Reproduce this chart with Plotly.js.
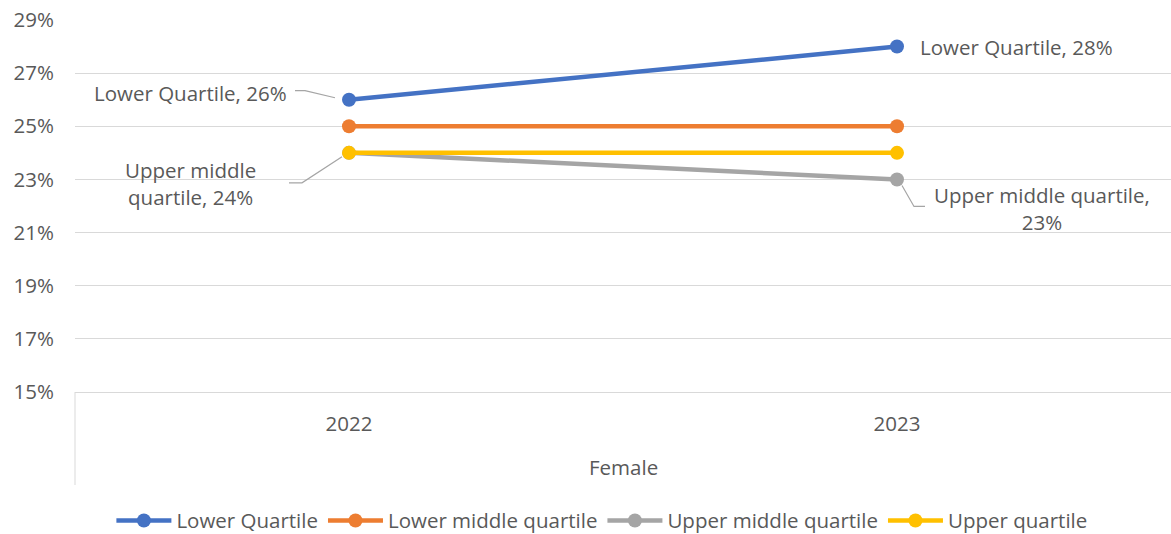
<!DOCTYPE html>
<html>
<head>
<meta charset="utf-8">
<script src="https://cdn.plot.ly/plotly-3.0.1.min.js"></script>
<style>html,body{margin:0;padding:0;background:#fff;}#chart{width:1171px;height:534px;}</style>
</head>
<body>
<div id="chart"></div>
<script>
const years = ["2022", "2023"];
const groupLabel = "Female";
const seriesNames = ["Lower Quartile", "Lower middle quartile", "Upper middle quartile", "Upper quartile"];
const lowerQuartile = [26, 28];
const lowerMiddleQuartile = [25, 25];
const upperMiddleQuartile = [24, 23];
const upperQuartile = [24, 24];
const yTicks = [15, 17, 19, 21, 23, 25, 27, 29];

const colors = ["#4472C4", "#ED7D31", "#A5A5A5", "#FFC000"];
const seriesValues = [lowerQuartile, lowerMiddleQuartile, upperMiddleQuartile, upperQuartile];
const FONT = "'Open Sans', sans-serif";
const FS = 20.5;
const TXT = "#595959";

const traces = seriesValues.map((vals, i) => ({
  type: "scatter",
  mode: "lines+markers",
  name: seriesNames[i],
  x: years,
  y: vals,
  line: {color: colors[i], width: 4.5},
  marker: {color: colors[i], size: 14},
  hoverinfo: "skip"
}));

const annotations = [
  {x: 0, y: lowerQuartile[0], xref: "x", yref: "y", text: seriesNames[0] + ", " + lowerQuartile[0] + "%",
   showarrow: false, xanchor: "right", yanchor: "middle", xshift: -60, yshift: 7},
  {x: 1, y: lowerQuartile[1], xref: "x", yref: "y", text: seriesNames[0] + ", " + lowerQuartile[1] + "%",
   showarrow: false, xanchor: "left", yanchor: "middle", xshift: 21, yshift: 0},
  {x: 0, y: upperMiddleQuartile[0], xref: "x", yref: "y", text: "Upper middle<br>quartile, " + upperMiddleQuartile[0] + "%",
   showarrow: false, xanchor: "center", yanchor: "middle", xshift: -159, yshift: -31, align: "center"},
  {x: 1, y: upperMiddleQuartile[1], xref: "x", yref: "y", text: "Upper middle quartile,<br>" + upperMiddleQuartile[1] + "%",
   showarrow: false, xanchor: "center", yanchor: "middle", xshift: 145, yshift: -29, align: "center"},
  {x: 0.5, y: -0.2016, xref: "paper", yref: "paper", text: groupLabel, showarrow: false,
   xanchor: "center", yanchor: "middle"}
];

const leader = {color: "#A5A5A5", width: 1.2};
const shapes = [
  {type: "path", xref: "x", yref: "y", xsizemode: "pixel", ysizemode: "pixel",
   xanchor: 0, yanchor: lowerQuartile[0], path: "M-14,2 L-44,9 L-54,9", line: leader},
  {type: "path", xref: "x", yref: "y", xsizemode: "pixel", ysizemode: "pixel",
   xanchor: 0, yanchor: upperMiddleQuartile[0], path: "M-7,-4 L-47,-30 L-60,-30", line: leader},
  {type: "path", xref: "x", yref: "y", xsizemode: "pixel", ysizemode: "pixel",
   xanchor: 1, yanchor: upperMiddleQuartile[1], path: "M5,-6 L17,-27 L28,-27", line: leader},
  {type: "line", xref: "paper", yref: "paper", x0: 0, x1: 0, y0: 0, y1: -0.25, line: {color: "#D9D9D9", width: 1}}
];

const layout = {
  width: 1171, height: 534,
  margin: {l: 75, r: 0, t: 20, b: 142},
  paper_bgcolor: "#fff", plot_bgcolor: "#fff",
  font: {family: FONT, size: FS, color: TXT},
  showlegend: true,
  legend: {orientation: "h", x: 0.514, xanchor: "center", xref: "container", y: 0.025, yref: "container", yanchor: "middle",
           font: {family: FONT, size: FS, color: TXT}, itemwidth: 55, traceorder: "normal"},
  xaxis: {type: "category", range: [-0.5, 1.5], showgrid: false, zeroline: false,
          showline: true, linecolor: "#D9D9D9", linewidth: 1, ticks: "", ticklabelstandoff: 13,
          tickfont: {family: FONT, size: FS, color: TXT}, fixedrange: true},
  yaxis: {range: [15, 29], tickvals: yTicks, ticktext: yTicks.map(v => v + "%"), showgrid: true,
          gridcolor: "#D9D9D9", gridwidth: 1, zeroline: false, showline: false, ticks: "",
          ticklabelstandoff: 20, tickfont: {family: FONT, size: FS, color: TXT}, fixedrange: true},
  annotations: annotations,
  shapes: shapes
};

Plotly.newPlot("chart", traces, layout, {displayModeBar: false, staticPlot: true});
</script>
</body>
</html>
